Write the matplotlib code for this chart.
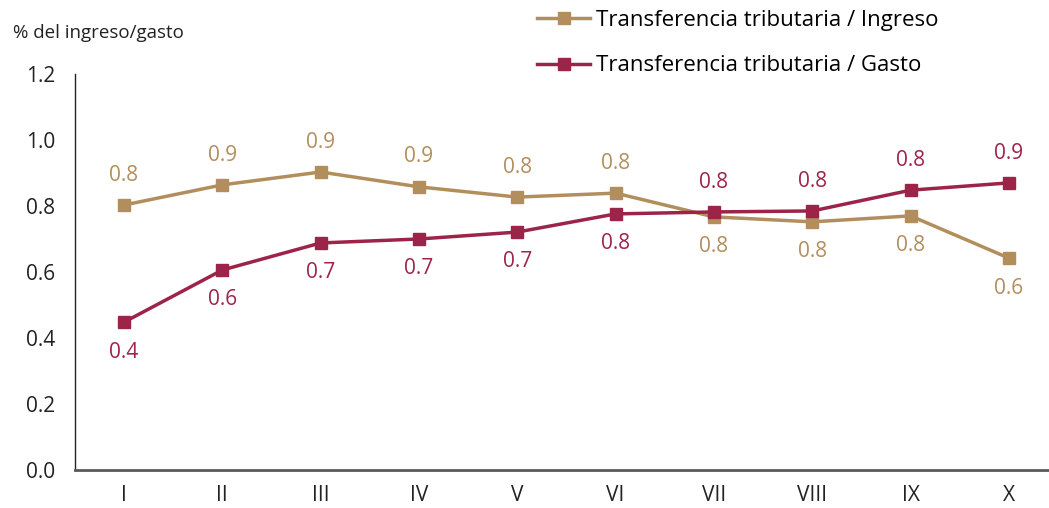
import matplotlib.pyplot as plt
import numpy as np

# data
meses = ["I", "II", "III", "IV", "V", "VI", "VII", "VIII", "IX", "X"]
ingreso = [0.803, 0.864, 0.903, 0.858, 0.827, 0.839, 0.767, 0.752, 0.770, 0.642]
gasto = [0.448, 0.606, 0.688, 0.700, 0.721, 0.776, 0.782, 0.785, 0.848, 0.870]
# label above (+1) or below (-1) the point
pos_ingreso = [1, 1, 1, 1, 1, 1, -1, -1, -1, -1]
pos_gasto = [-1, -1, -1, -1, -1, -1, 1, 1, 1, 1]

oro = "#B38E5D"
guinda = "#9D2449"

plt.rcParams['font.family'] = ['Open Sans', 'DejaVu Sans']

fig = plt.figure(figsize=(10.49, 5.08), dpi=100)
ax = fig.add_axes([75/1049, 1 - 470/508, 1 - 75/1049, (470 - 74)/508])

x = np.arange(len(meses))
l1, = ax.plot(x, ingreso, color=oro, lw=2.5, marker="s", ms=8,
              label="Transferencia tributaria / Ingreso")
l2, = ax.plot(x, gasto, color=guinda, lw=2.5, marker="s", ms=8,
              label="Transferencia tributaria / Gasto")

for xi, v, p in zip(x, ingreso, pos_ingreso):
    ax.annotate(f"{v:.1f}", (xi, v), xytext=(0, 21.5 * p), textcoords="offset points",
                ha="center", va="center", color=oro, fontsize=15)
for xi, v, p in zip(x, gasto, pos_gasto):
    ax.annotate(f"{v:.1f}", (xi, v), xytext=(0, 21.5 * p), textcoords="offset points",
                ha="center", va="center", color=guinda, fontsize=15)

ax.set_xlim(-0.498, 9.407)
ax.set_ylim(0, 1.2)
ax.set_yticks(np.arange(0, 1.21, 0.2))
ax.set_yticklabels([f"{t:.1f}" for t in np.arange(0, 1.21, 0.2)])
ax.set_xticks(x)
ax.set_xticklabels(meses)
ax.tick_params(length=0, labelsize=15, colors="#222222", pad=11)
ax.tick_params(axis="y", pad=14)

for s in ["top", "right"]:
    ax.spines[s].set_visible(False)
ax.spines["left"].set_color("#222222")
ax.spines["left"].set_linewidth(1)
ax.spines["bottom"].set_color("#595959")
ax.spines["bottom"].set_linewidth(2)

fig.text(13/1049, 1 - 33/508, "% del ingreso/gasto", fontsize=13.5, color="#222222",
         va="center", ha="left")

fig.legend(handles=[l1, l2], loc="upper left", bbox_to_anchor=(537/1049, 1 - 10/508),
           frameon=False, fontsize=16, handlelength=2.4, handletextpad=0.25,
           labelspacing=1.1, borderpad=0, borderaxespad=0)

fig.savefig("out.png", dpi=100)
